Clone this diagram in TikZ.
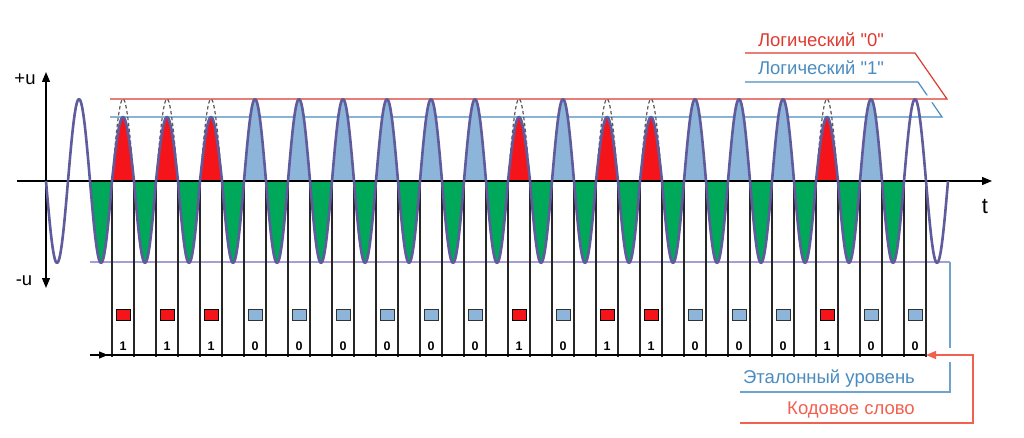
\documentclass[tikz,border=0pt]{standalone}
\usepackage{fontspec}
\setmainfont{Liberation Sans}[Ligatures=TeXOff]
\usepackage{tikz}
\usetikzlibrary{arrows.meta}

\definecolor{wavecol}{HTML}{5F5B9D}
\definecolor{zerored}{HTML}{DE3A30}
\definecolor{oneblue}{HTML}{4A8CC0}
\definecolor{lowred}{HTML}{F5141A}
\definecolor{highblue}{HTML}{8DB4D9}
\definecolor{troughgreen}{HTML}{00A859}
\definecolor{lavender}{HTML}{A49ED2}
\definecolor{codered}{HTML}{F2604F}

% peak centre / bit value
\newcommand{\bitlist}{123/1,167/1,211/1,255/0,299/0,343/0,387/0,431/0,475/0,519/1,563/0,607/1,651/1,695/0,739/0,783/0,827/1,871/0,915/0}

\tikzset{
  wave/.style={wavecol, line width=2.6pt, line join=round},
  ghost/.style={black!65, line width=1.2pt, dash pattern=on 3.5pt off 2.5pt},
  axis/.style={black, line width=1.2pt},
  tick/.style={black!85, line width=1.1pt},
  tip/.style={-{Triangle[length=10pt, width=8pt]}},
  zerolevel/.style={zerored, line width=1.2pt},
  onelevel/.style={oneblue, line width=1.2pt},
  reflevel/.style={lavender, line width=1.2pt},
  refline/.style={oneblue!80, line width=1.2pt},
  codeline/.style={codered, line width=1.2pt},
  lowbox/.style={draw=black, fill=lowred, line width=0.7pt, minimum width=14pt, minimum height=11pt, inner sep=0pt},
  highbox/.style={draw=black!80, fill=highblue, line width=0.7pt, minimum width=14pt, minimum height=11pt, inner sep=0pt},
  digit/.style={font=\fontsize{12.5}{13}\selectfont\bfseries, inner sep=0pt},
  bigtext/.style={font=\fontsize{18.5}{20}\selectfont, inner sep=0pt},
}

\begin{document}
\begin{tikzpicture}[x=1pt, y=-1pt]
\useasboundingbox (0, 0) rectangle (1024, 438);

% level lines
\draw[onelevel] (110, 117) -- (942, 117) -- (918, 82) -- (745, 82);
\draw[zerolevel, preaction={draw=white, line width=7pt}] (110, 99) -- (947, 99) -- (915, 53) -- (745, 53);

% reference level and code word
\draw[reflevel] (90, 262) -- (950, 262);
\draw[refline] (950, 262) -- (950, 348);
\draw[refline] (950, 362) -- (950, 392) -- (740, 392);
\draw[codeline, -{Triangle[length=10pt, width=8pt]}] (740, 423) -- (973, 423) -- (973, 355) -- (926, 355);

% fills
\fill[troughgreen] (90, 181) -- plot[domain=90:112, samples=21] (\x, {181+82*sin(180*(\x-90)/22)}) -- cycle;
\foreach \c/\b in \bitlist {
  \ifnum\c<900
    \ifnum\b=1
      \fill[lowred] (\c-11, 181) -- plot[domain=\c-11:\c+11, samples=21] (\x, {181-64*sin(180*(\x-\c+11)/22)}) -- cycle;
    \else
      \fill[highblue] (\c-11, 181) -- plot[domain=\c-11:\c+11, samples=21] (\x, {181-82*sin(180*(\x-\c+11)/22)}) -- cycle;
    \fi
    \fill[troughgreen] (\c+11, 181) -- plot[domain=\c+11:\c+33, samples=21] (\x, {181+82*sin(180*(\x-\c-11)/22)}) -- cycle;
  \fi
}

% bit boundaries
\foreach \c/\b in \bitlist {
  \draw[tick] (\c-11, 181) -- (\c-11, 357);
  \draw[tick] (\c+11, 181) -- (\c+11, 357);
}

% full peaks behind reduced ones
\foreach \c/\b in \bitlist {
  \ifnum\b=1
    \draw[ghost] plot[domain=\c-11:\c+11, samples=25] (\x, {181-82*sin(180*(\x-\c+11)/22)});
  \fi
}

% axes
\draw[axis, tip] (17, 181) -- (992, 181);
\draw[axis, {Triangle[length=10pt, width=8pt]}-{Triangle[length=10pt, width=8pt]}] (46, 288) -- (46, 72);
\draw[axis] (90, 355) -- (925, 355);
\draw[axis, -{Triangle[length=9pt, width=7pt]}] (90, 355) -- (108, 355);

% signal
\draw[wave] (46, 181) -- plot[domain=46:112, samples=61] (\x, {181+82*sin(180*(\x-46)/22)})
  \foreach \c/\b in \bitlist {
    -- plot[domain=\c-11:\c+11, samples=21] (\x, {181-(82-18*\b)*sin(180*(\x-\c+11)/22)})
    -- plot[domain=\c+11:\c+33, samples=21] (\x, {181+82*sin(180*(\x-\c-11)/22)})
  };

% code bits
\node[lowbox] (sq0) at (123, 315) {};
\node[lowbox] (sq1) at (167, 315) {};
\node[lowbox] (sq2) at (211, 315) {};
\node[highbox] (sq3) at (255, 315) {};
\node[highbox] (sq4) at (299, 315) {};
\node[highbox] (sq5) at (343, 315) {};
\node[highbox] (sq6) at (387, 315) {};
\node[highbox] (sq7) at (431, 315) {};
\node[highbox] (sq8) at (475, 315) {};
\node[lowbox] (sq9) at (519, 315) {};
\node[highbox] (sq10) at (563, 315) {};
\node[lowbox] (sq11) at (607, 315) {};
\node[lowbox] (sq12) at (651, 315) {};
\node[highbox] (sq13) at (695, 315) {};
\node[highbox] (sq14) at (739, 315) {};
\node[highbox] (sq15) at (783, 315) {};
\node[lowbox] (sq16) at (827, 315) {};
\node[highbox] (sq17) at (871, 315) {};
\node[highbox] (sq18) at (915, 315) {};
\node[digit] (bit0) at (123, 346) {1};
\node[digit] (bit1) at (167, 346) {1};
\node[digit] (bit2) at (211, 346) {1};
\node[digit] (bit3) at (255, 346) {0};
\node[digit] (bit4) at (299, 346) {0};
\node[digit] (bit5) at (343, 346) {0};
\node[digit] (bit6) at (387, 346) {0};
\node[digit] (bit7) at (431, 346) {0};
\node[digit] (bit8) at (475, 346) {0};
\node[digit] (bit9) at (519, 346) {1};
\node[digit] (bit10) at (563, 346) {0};
\node[digit] (bit11) at (607, 346) {1};
\node[digit] (bit12) at (651, 346) {1};
\node[digit] (bit13) at (695, 346) {0};
\node[digit] (bit14) at (739, 346) {0};
\node[digit] (bit15) at (783, 346) {0};
\node[digit] (bit16) at (827, 346) {1};
\node[digit] (bit17) at (871, 346) {0};
\node[digit] (bit18) at (915, 346) {0};

% labels
\node[bigtext, text=zerored] (lzero) at (821, 40) {Логический "0"};
\node[bigtext, text=oneblue] (lone) at (821, 68) {Логический "1"};
\node[bigtext, text=oneblue] (lref) at (829, 379) {Эталонный уровень};
\node[bigtext, text=codered] (lcode) at (851, 410) {Кодовое слово};
\node[bigtext] (lplus) at (25, 79) {+u};
\node[bigtext] (lminus) at (24, 281) {-u};
\node[font=\fontsize{22}{24}\selectfont, inner sep=0pt] (lt) at (985, 206) {t};
\end{tikzpicture}
\end{document}
